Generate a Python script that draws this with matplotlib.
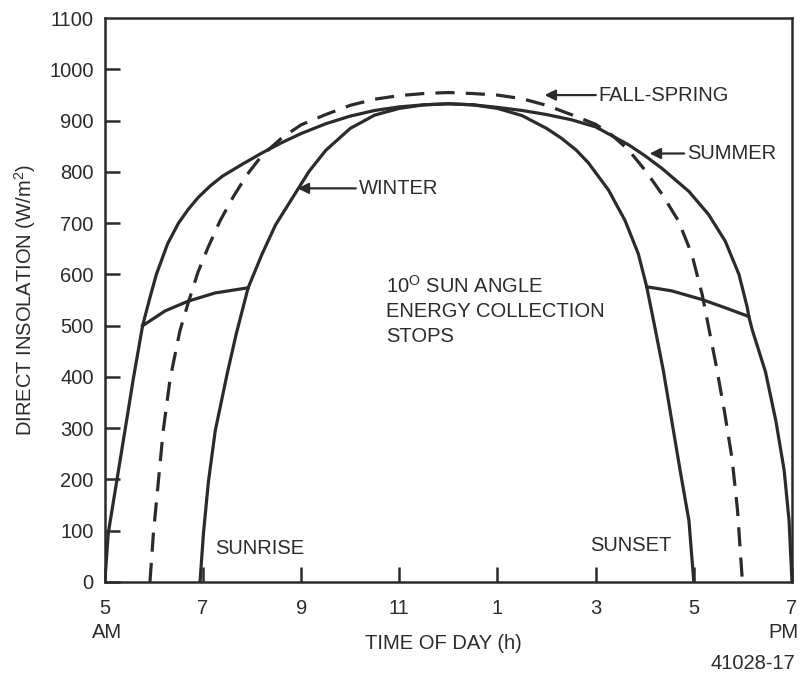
import matplotlib.pyplot as plt

plt.rcParams['font.family'] = ['Liberation Sans', 'DejaVu Sans']
plt.rcParams['mathtext.fontset'] = 'custom'
plt.rcParams['mathtext.rm'] = 'Liberation Sans'

INK = '#2b2b2b'
FS = 14.5

# hours on a 5..19 scale (13 = 1 PM), insolation in W/m2
summer_hours = [5.0, 5.07, 5.24, 5.41, 5.58, 5.77, 5.92, 6.05, 6.28, 6.5, 6.7, 6.9, 7.15,
                7.4, 7.8, 8.2, 8.6, 9.0, 9.5, 10.0, 10.5, 11.0, 11.5, 12.0, 12.5, 13.0,
                13.5, 14.0, 14.5, 15.0, 15.67, 16.0, 16.35, 16.9, 17.3, 17.64, 17.92,
                18.09, 18.12, 18.19, 18.46, 18.67, 18.84, 18.94, 19.0]
summer_vals = [0, 95, 195, 295, 396, 500, 555, 600, 660, 700, 727, 750, 773,
               792, 815, 837, 857, 875, 894, 909, 920, 927, 931, 933, 931, 926,
               920, 912, 902, 888, 853, 832, 807, 762, 717, 665, 600,
               535, 518, 492, 410, 315, 218, 120, 0]

fall_hours = [5.92, 5.99, 6.09, 6.19, 6.33, 6.53, 6.7, 6.9, 7.1, 7.35, 7.62, 7.9, 8.2,
              8.6, 9.0, 9.5, 10.0, 10.5, 11.0, 11.5, 12.0, 12.5, 13.0, 13.5, 14.0, 14.5,
              15.0, 15.33, 15.67, 16.01, 16.35, 16.69, 16.96, 17.17, 17.32, 17.45,
              17.62, 17.78, 17.89, 17.99]
fall_vals = [0, 95, 195, 295, 396, 490, 545, 605, 652, 705, 752, 795, 832,
             866, 892, 912, 930, 942, 949, 953, 955, 953, 950, 943, 930, 912,
             893, 872, 843, 803, 757, 704, 639, 561, 488, 425,
             335, 240, 140, 0]

winter_hours = [6.94, 7.01, 7.11, 7.25, 7.49, 7.68, 7.92, 8.2, 8.48, 8.82, 9.16, 9.5,
                10.0, 10.5, 11.0, 11.5, 12.0, 12.5, 13.0, 13.5, 14.0, 14.3, 14.6, 14.85,
                15.26, 15.6, 15.87, 16.04, 16.2, 16.38, 16.55, 16.72, 16.9, 17.0]
winter_vals = [0, 95, 195, 295, 405, 485, 574, 639, 697, 749, 801, 842,
               885, 911, 924, 931, 933, 931, 924, 910, 885, 866, 843, 818,
               765, 705, 640, 576, 500, 412, 315, 218, 120, 0]

# 10 degree sun angle cut-off lines
am_stop_hours = [5.77, 6.23, 6.7, 7.25, 7.92]
am_stop_vals = [500, 529, 548, 564, 574]
pm_stop_hours = [16.04, 16.55, 17.17, 17.64, 18.12]
pm_stop_vals = [576, 568, 551, 535, 518]

tick_hours = [5, 7, 9, 11, 13, 15, 17, 19]
tick_labels = ['5', '7', '9', '11', '1', '3', '5', '7']
y_ticks = list(range(0, 1001, 100))

fig = plt.figure(figsize=(8, 6.74), dpi=100)
ax = fig.add_axes([0.131, 0.1365, 0.859, 0.8365])

lw = 2.3
kw = dict(color=INK, lw=lw, solid_joinstyle='round', dash_joinstyle='round')
ax.plot(summer_hours, summer_vals, **kw)
ax.plot(winter_hours, winter_vals, **kw)
ax.plot(fall_hours, fall_vals, linestyle=(0, (6, 3.5)), **kw)
ax.plot(am_stop_hours, am_stop_vals, **kw)
ax.plot(pm_stop_hours, pm_stop_vals, **kw)

ax.set_xlim(5, 19)
ax.set_ylim(0, 1100)
ax.set_xticks(tick_hours)
ax.set_xticklabels(tick_labels)
ax.set_yticks(y_ticks + [1100])
ax.set_yticklabels([str(v) for v in y_ticks] + ['1100'])

for sp in ax.spines.values():
    sp.set_color(INK)
    sp.set_linewidth(1.8)

ax.tick_params(direction='in', length=11, width=1.8, color=INK, labelcolor=INK,
               labelsize=FS)
ax.tick_params(axis='x', pad=12)
ax.tick_params(axis='y', pad=8)
ax.yaxis.get_major_ticks()[-1].tick1line.set_visible(False)

ax.set_ylabel('DIRECT INSOLATION (W/m$^2$)', fontsize=FS, color=INK)
ax.yaxis.set_label_coords(-0.0975, 0.5)
ax.set_xlabel('TIME OF DAY (h)', fontsize=FS, color=INK)
ax.xaxis.set_label_coords(0.493, -0.093)

# AM / PM under the end ticks
fig.text(107 / 800, 1 - 633 / 674, 'AM', fontsize=FS, color=INK, ha='center', va='center')
fig.text(783 / 800, 1 - 633 / 674, 'PM', fontsize=FS, color=INK, ha='center', va='center')

arrow = dict(arrowstyle='-|>', color=INK, lw=1.6, mutation_scale=16,
             shrinkA=0, shrinkB=0)
ax.annotate('WINTER', xy=(8.93, 768), xytext=(10.17, 768), fontsize=FS,
            color=INK, va='center', ha='left', arrowprops=arrow)
ax.annotate('FALL-SPRING', xy=(13.96, 950), xytext=(15.06, 950), fontsize=FS,
            color=INK, va='center', ha='left', arrowprops=arrow)
ax.annotate('SUMMER', xy=(16.1, 836), xytext=(16.86, 836), fontsize=FS,
            color=INK, va='center', ha='left', arrowprops=arrow)

ax.text(10.73, 600, '10$^{\\mathrm{O}}$ SUN ANGLE\nENERGY COLLECTION\nSTOPS',
        fontsize=FS, color=INK, va='top', ha='left', linespacing=1.38)
ax.text(7.25, 66, 'SUNRISE', fontsize=FS, color=INK, va='center', ha='left')
ax.text(14.88, 72, 'SUNSET', fontsize=FS, color=INK, va='center', ha='left')

fig.text(0.994, 0.0163, '41028-17', fontsize=FS, color=INK, ha='right', va='center')

fig.savefig('out.png', dpi=100)
